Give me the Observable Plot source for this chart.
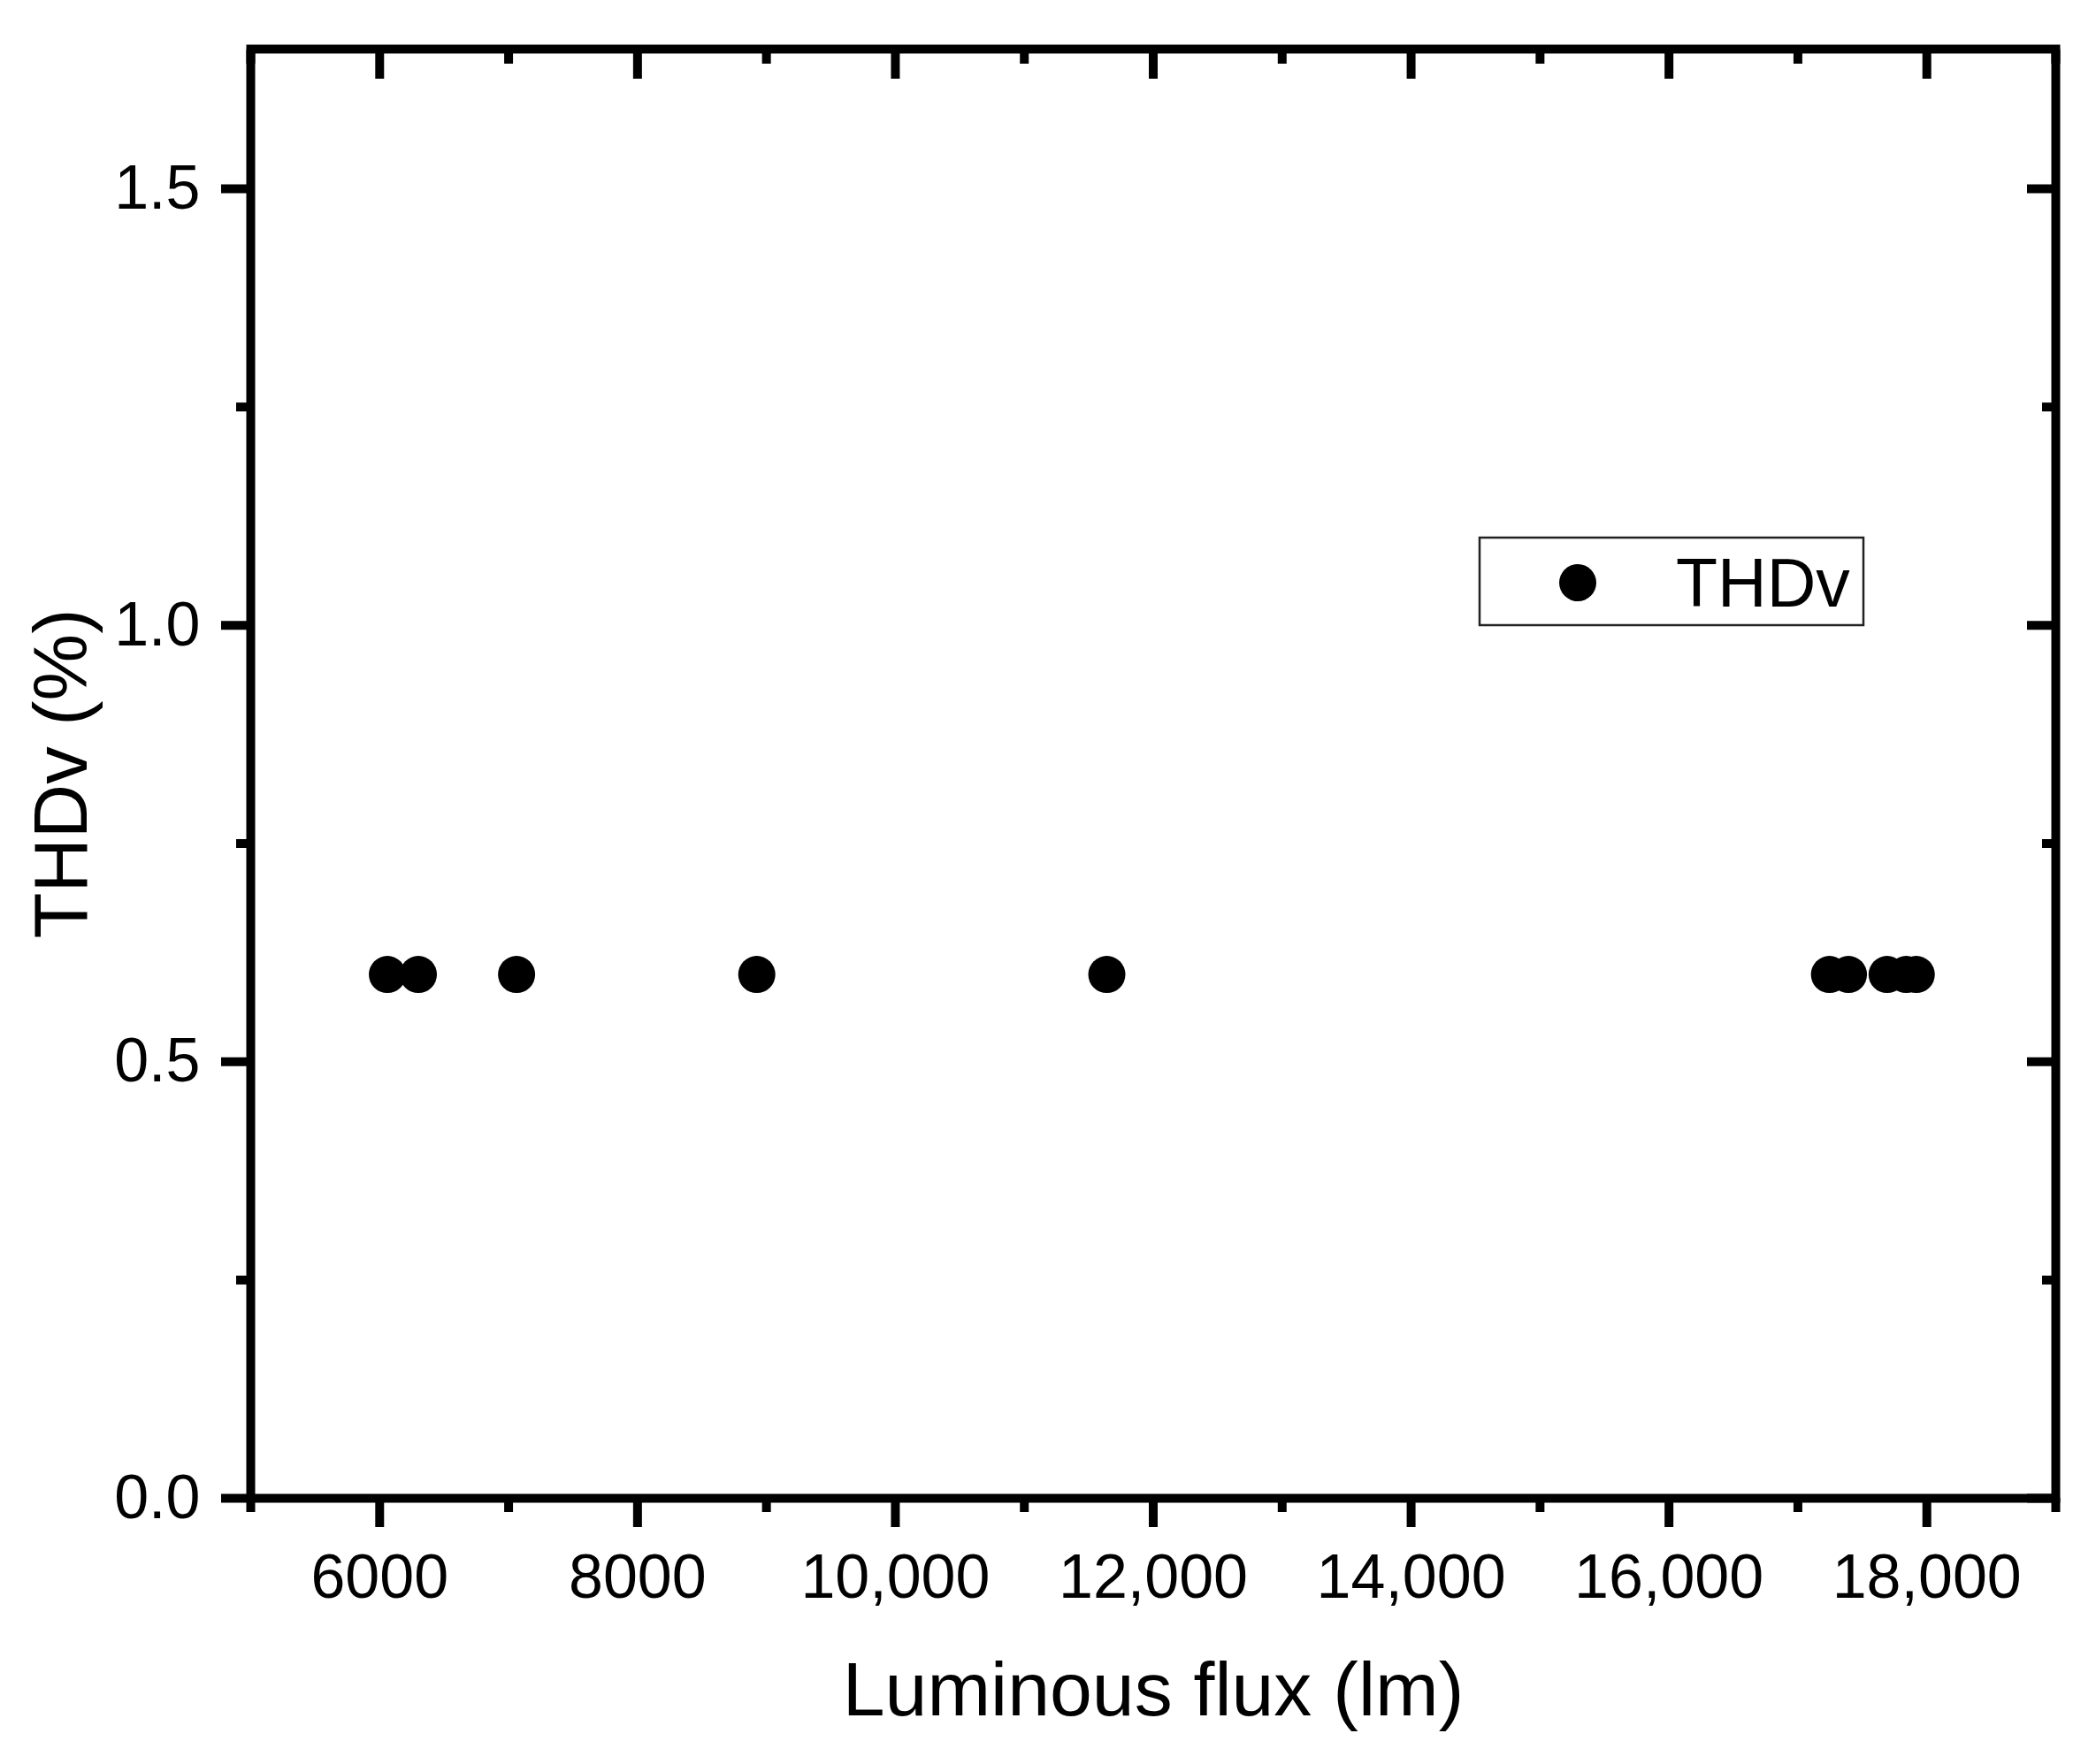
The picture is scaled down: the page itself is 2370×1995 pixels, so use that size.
<!DOCTYPE html>
<html>
<head>
<meta charset="utf-8">
<script src="https://cdn.jsdelivr.net/npm/d3@7"></script>
<script src="https://cdn.jsdelivr.net/npm/@observablehq/plot@0.6"></script>
<style>
  html, body { margin: 0; padding: 0; background: white; }
  #chart { position: relative; width: 2370px; height: 1995px; }
</style>
</head>
<body>
<div id="chart"></div>
<script>
// ---- data ----
const seriesName = "THDv";
const flux = [6060, 6300, 7062, 8925, 11640, 17245, 17392, 17692, 17840, 17918];
const thdv = [0.6, 0.6, 0.6, 0.6, 0.6, 0.6, 0.6, 0.6, 0.6, 0.6];

const xMajor = [6000, 8000, 10000, 12000, 14000, 16000, 18000];
const xTickLabels = ["6000", "8000", "10,000", "12,000", "14,000", "16,000", "18,000"];
const xMinor = [5000, 7000, 9000, 11000, 13000, 15000, 17000, 19000];
const yMajor = [0, 0.5, 1.0, 1.5];
const yTickLabels = ["0.0", "0.5", "1.0", "1.5"];
const yMinor = [0.25, 0.75, 1.25];

const xTitle = "Luminous flux (lm)";
const yTitle = "THDv (%)";

const points = flux.map((f, i) => ({flux: f, thdv: thdv[i]}));

const font = "'Liberation Sans', Arial, Helvetica, sans-serif";
const tickW = 10;
const major = 33, minor = 16;

const plot = Plot.plot({
  width: 2370,
  height: 1995,
  marginLeft: 283,
  marginRight: 46,
  marginTop: 55,
  marginBottom: 301,
  style: {fontFamily: font, background: "white", color: "black", overflow: "visible"},
  x: {domain: [5000, 19000], label: null},
  y: {domain: [0, 1.66], label: null},
  marks: [
    // tick marks (Origin style: outward on bottom/left, inward on top/right)
    Plot.axisX({anchor: "bottom", ticks: xMajor, tickSize: major, strokeWidth: tickW, fill: "none", label: null}),
    Plot.axisX({anchor: "bottom", ticks: xMinor, tickSize: minor, strokeWidth: tickW, fill: "none", label: null}),
    Plot.axisX({anchor: "top", ticks: xMajor, tickSize: -major, strokeWidth: tickW, fill: "none", label: null}),
    Plot.axisX({anchor: "top", ticks: xMinor, tickSize: -minor, strokeWidth: tickW, fill: "none", label: null}),
    Plot.axisY({anchor: "left", ticks: yMajor, tickSize: major, strokeWidth: tickW, fill: "none", label: null}),
    Plot.axisY({anchor: "left", ticks: yMinor, tickSize: minor, strokeWidth: tickW, fill: "none", label: null}),
    Plot.axisY({anchor: "right", ticks: yMajor, tickSize: -major, strokeWidth: tickW, fill: "none", label: null}),
    Plot.axisY({anchor: "right", ticks: yMinor, tickSize: -minor, strokeWidth: tickW, fill: "none", label: null}),
    // tick labels
    Plot.axisX({anchor: "bottom", ticks: xMajor, tickSize: 0, tickPadding: 63, fontSize: 70,
      tickFormat: d => xTickLabels[xMajor.indexOf(d)], label: null}),
    Plot.axisY({anchor: "left", ticks: yMajor, tickSize: 0, tickPadding: 57, fontSize: 70,
      tickFormat: d => yTickLabels[yMajor.indexOf(d)], label: null}),
    // frame
    Plot.frame({stroke: "black", strokeWidth: 10}),
    // data
    Plot.dot(points, {x: "flux", y: "thdv", r: 21, fill: "black", stroke: null}),
    // axis titles
    Plot.text([xTitle], {frameAnchor: "bottom", textAnchor: "middle", dy: 245, lineAnchor: "bottom", fontSize: 86}),
    Plot.text([yTitle], {frameAnchor: "left", textAnchor: "middle", rotate: -90, dx: -186, lineAnchor: "bottom", fontSize: 85})
  ]
});

document.getElementById("chart").appendChild(plot);

// legend box inside plot area
const svg = d3.select(plot);
const lg = svg.append("g").attr("font-family", font).attr("text-anchor", "start");
lg.append("rect").attr("x", 1673).attr("y", 608).attr("width", 434).attr("height", 99)
  .attr("fill", "white").attr("stroke", "#222").attr("stroke-width", 2.5);
lg.append("circle").attr("cx", 1784).attr("cy", 659).attr("r", 21).attr("fill", "black");
lg.append("text").attr("x", 1895).attr("y", 686).attr("font-size", 77).attr("fill", "black")
  .attr("text-anchor", "start").text(seriesName);
</script>
</body>
</html>
